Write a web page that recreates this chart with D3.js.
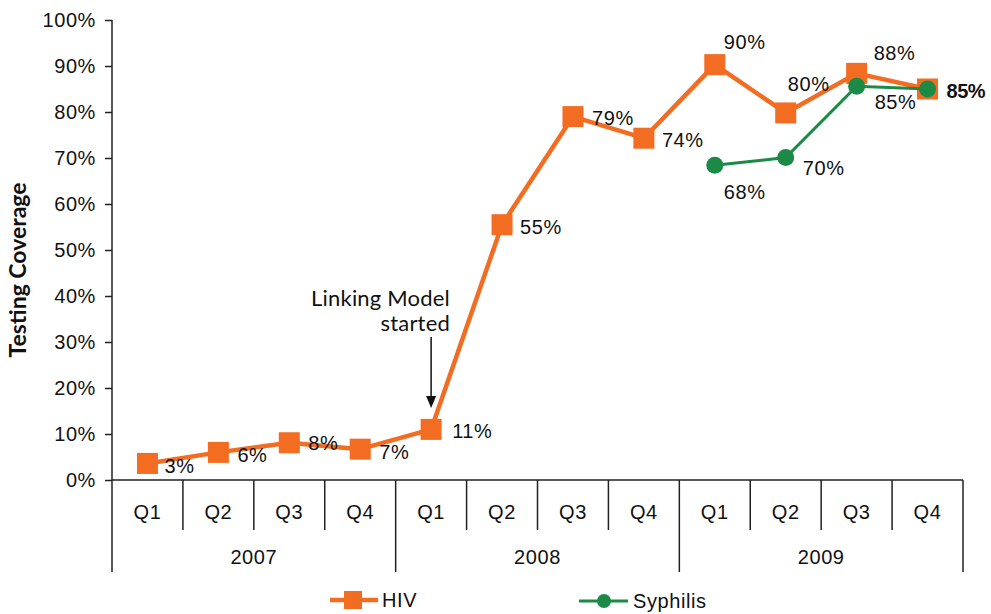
<!DOCTYPE html>
<html>
<head>
<meta charset="utf-8">
<script src="https://cdn.jsdelivr.net/npm/d3@7"></script>
<style>
  body { margin: 0; background: #fff; }
  text { font-family: "Liberation Sans", Arial, sans-serif; fill: #111; letter-spacing: 0.6px; }
</style>
</head>
<body>
<div class="chart"></div>
<script>
// data
var years = ["2007", "2008", "2009"];
var quarters = ["Q1", "Q2", "Q3", "Q4"];
var hivValues = [3.6, 6.0, 8.1, 6.7, 11.0, 55.5, 79.0, 74.3, 90.3, 79.8, 88.4, 85.0];
var hivLabels = ["3%", "6%", "8%", "7%", "11%", "55%", "79%", "74%", "90%", "80%", "88%", "85%"];
var syphIndex = [8, 9, 10, 11];
var syphValues = [68.4, 70.1, 85.6, 85.0];
var syphLabels = ["68%", "70%", "85%", "85%"];
var yTicks = [0, 10, 20, 30, 40, 50, 60, 70, 80, 90, 100];

var width = 991, height = 614,
    orange = "#f26c22", green = "#1b8a47";

var keys = [];
years.forEach(function(y) { quarters.forEach(function(q) { keys.push(y + " " + q); }); });

var svg = d3.select(".chart").append("svg")
  .attr("width", width).attr("height", height);

var x = d3.scaleBand().domain(keys).range([112, 963]);
var y = d3.scaleLinear().domain([0, 100]).range([480, 20]);

// y axis
var yAxis = svg.append("g")
  .attr("transform", "translate(112,0)")
  .call(d3.axisLeft(y).tickValues(yTicks).tickSize(7).tickPadding(9)
    .tickFormat(function(d) { return d + "%"; }));
yAxis.selectAll("path, line").attr("stroke", "#222").attr("stroke-width", 1.5);
yAxis.select(".domain").attr("d", "M0," + y(100) + "V" + y(0));
yAxis.selectAll("text").style("font-size", "20px").style("font-family", "Liberation Sans, Arial, sans-serif").attr("fill", "#111");

svg.append("text")
  .attr("transform", "translate(26," + (y(50) + 20) + ") rotate(-90)")
  .attr("text-anchor", "middle")
  .style("font-family", "Lato, 'Open Sans', sans-serif")
  .style("font-weight", "bold")
  .style("font-size", "23px")
  .style("letter-spacing", "0px")
  .text("Testing Coverage");

// x axis: line + dividers
var axisG = svg.append("g");
axisG.append("line")
  .attr("x1", 112).attr("x2", 963).attr("y1", y(0)).attr("y2", y(0))
  .attr("stroke", "#222").attr("stroke-width", 1.5);

var bounds = keys.map(function(k) { return x(k); }).concat([x.range()[1]]);
axisG.selectAll(".div").data(bounds).enter().append("line")
  .attr("x1", function(d) { return d; }).attr("x2", function(d) { return d; })
  .attr("y1", y(0))
  .attr("y2", function(d, i) { return i % 4 === 0 ? 572 : 530; })
  .attr("stroke", "#222").attr("stroke-width", 1.5);

axisG.selectAll(".q").data(keys).enter().append("text")
  .attr("x", function(d) { return x(d) + x.bandwidth() / 2; })
  .attr("y", 519)
  .attr("text-anchor", "middle")
  .style("font-size", "20px")
  .text(function(d) { return d.split(" ")[1]; });

axisG.selectAll(".yr").data(years).enter().append("text")
  .attr("x", function(d) { return x(d + " Q1") + x.bandwidth() * 2; })
  .attr("y", 564)
  .attr("text-anchor", "middle")
  .style("font-size", "20px")
  .text(function(d) { return d; });

// lines
var line = d3.line()
  .x(function(d) { return x(keys[d.i]) + x.bandwidth() / 2; })
  .y(function(d) { return y(d.v); });

var hiv = hivValues.map(function(v, i) { return { i: i, v: v, label: hivLabels[i] }; });
var syph = syphValues.map(function(v, j) { return { i: syphIndex[j], v: v, label: syphLabels[j] }; });

svg.append("path").datum(hiv)
  .attr("d", line).attr("fill", "none")
  .attr("stroke", orange).attr("stroke-width", 4.5).attr("stroke-linejoin", "round");

svg.selectAll(".hivpt").data(hiv).enter().append("rect")
  .attr("x", function(d) { return x(keys[d.i]) + x.bandwidth() / 2 - 10.5; })
  .attr("y", function(d) { return y(d.v) - 10.5; })
  .attr("width", 21).attr("height", 21)
  .attr("fill", orange);

svg.append("path").datum(syph)
  .attr("d", line).attr("fill", "none")
  .attr("stroke", green).attr("stroke-width", 3);

svg.selectAll(".sypt").data(syph).enter().append("circle")
  .attr("cx", function(d) { return x(keys[d.i]) + x.bandwidth() / 2; })
  .attr("cy", function(d) { return y(d.v); })
  .attr("r", 8.5)
  .attr("fill", green);

// labels (offsets relative to marker)
var hivOff = [[17, 10], [19, 10], [19, 7], [19, 10], [21, 9], [18, 9], [19, 8], [18, 9], [9, -16], [2, -22], [17, -13], [19, 9]];
svg.selectAll(".hivlab").data(hiv).enter().append("text")
  .attr("x", function(d, i) { return x(keys[d.i]) + x.bandwidth() / 2 + hivOff[i][0]; })
  .attr("y", function(d, i) { return y(d.v) + hivOff[i][1]; })
  .style("font-size", "20px")
  .style("font-weight", function(d, i) { return i === 11 ? "bold" : "normal"; })
  .style("letter-spacing", function(d, i) { return i === 11 ? "-0.5px" : null; })
  .text(function(d) { return d.label; });

var syOff = [[9, 34], [17, 17], [18, 23], [0, 0]];
svg.selectAll(".sylab").data(syph.slice(0, 3)).enter().append("text")
  .attr("x", function(d, i) { return x(keys[d.i]) + x.bandwidth() / 2 + syOff[i][0]; })
  .attr("y", function(d, i) { return y(d.v) + syOff[i][1]; })
  .style("font-size", "20px")
  .text(function(d) { return d.label; });

// annotation
var ann = svg.append("g");
ann.append("text").attr("x", 450).attr("y", 306).attr("text-anchor", "end")
  .style("font-family", "Lato, 'Open Sans', sans-serif").style("font-size", "22px")
  .style("letter-spacing", "0.2px").text("Linking Model");
ann.append("text").attr("x", 450).attr("y", 331).attr("text-anchor", "end")
  .style("font-family", "Lato, 'Open Sans', sans-serif").style("font-size", "22px")
  .style("letter-spacing", "0.2px").text("started");
var ax = x(keys[4]) + x.bandwidth() / 2;
ann.append("line").attr("x1", ax).attr("x2", ax).attr("y1", 337).attr("y2", 398)
  .attr("stroke", "#111").attr("stroke-width", 1.5);
ann.append("path")
  .attr("d", "M" + (ax - 5) + ",396L" + ax + ",408L" + (ax + 5) + ",396Z")
  .attr("fill", "#111");

// legend
var lg = svg.append("g");
lg.append("line").attr("x1", 330).attr("x2", 378).attr("y1", 600).attr("y2", 600)
  .attr("stroke", orange).attr("stroke-width", 4.5);
lg.append("rect").attr("x", 344).attr("y", 591).attr("width", 18).attr("height", 18).attr("fill", orange);
lg.append("text").attr("x", 382).attr("y", 607).style("font-size", "20px").text("HIV");
lg.append("line").attr("x1", 579).attr("x2", 628).attr("y1", 601).attr("y2", 601)
  .attr("stroke", green).attr("stroke-width", 3);
lg.append("circle").attr("cx", 604).attr("cy", 601).attr("r", 7).attr("fill", green);
lg.append("text").attr("x", 633).attr("y", 608).style("font-size", "20px").text("Syphilis");
</script>
</body>
</html>
